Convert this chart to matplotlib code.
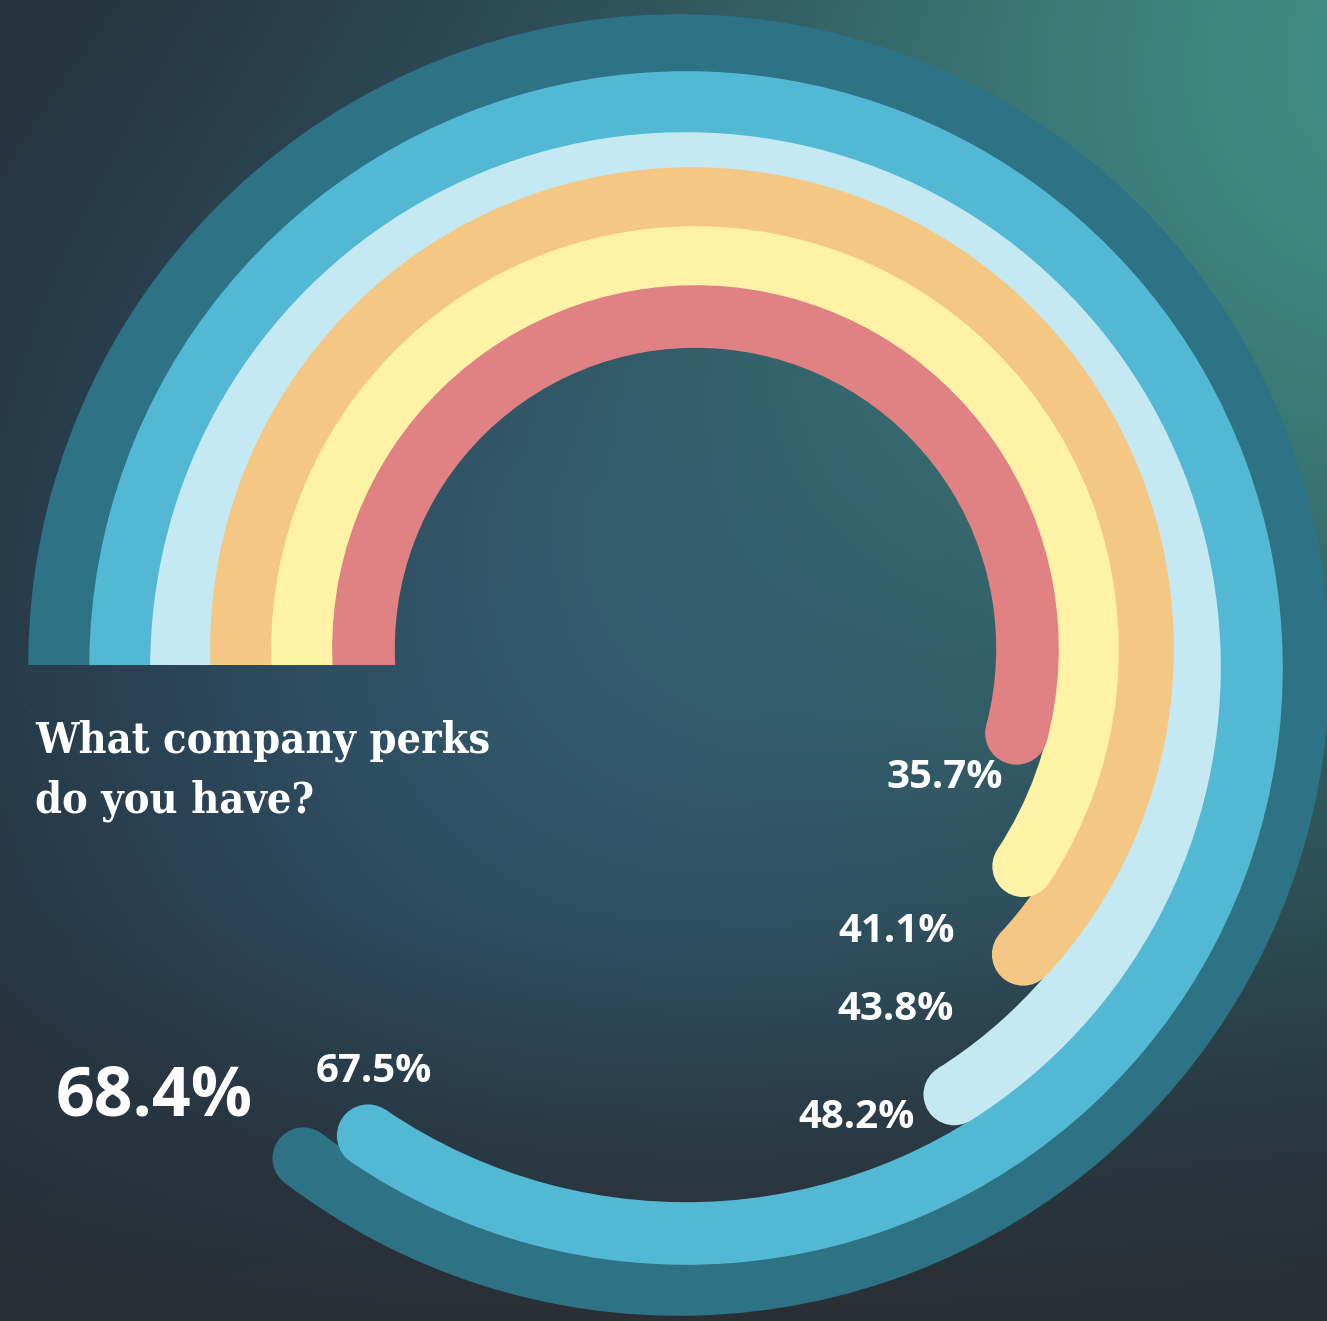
import numpy as np
import matplotlib
matplotlib.use("Agg")
import matplotlib.pyplot as plt
from matplotlib.patches import Wedge, Circle, Polygon

# ...   data: share of respondents per perk, outermost ring first
values = [68.4, 67.5, 48.2, 43.8, 41.1, 35.7]
colors = ["#2E7285", "#53B8D3", "#C5E9F3", "#F4C884", "#FEF2A7", "#E08283"]
title_lines = ["What company perks", "do you have?"]

# ...   layout (pixel space, y pointing down)
W, H = 1327, 1321
centres = [(679, 665), (686, 668), (685.5, 667.5), (692, 649), (695, 650), (695.5, 648.5)]
r_mids = [620, 565.5, 504.5, 450.5, 393, 332]
widths = [60, 61, 60, 61, 60, 61]
pad = 1.6  # slight overlap between neighbouring rings, avoids hairline seams
start_y = 665  # flat starting edge of every bar

label_pos = [(154, 1097), (374, 1072), (857, 1118), (896, 1010), (897, 932), (945, 777)]
label_size = [49, 29, 29, 29, 29, 29]


def sweep(v):
    # angular scale: degrees travelled clockwise from 9 o'clock
    return 72.0 + 3.44 * v


def background():
    yy, xx = np.mgrid[0:H, 0:W].astype(float)

    def blob(cx, cy, s):
        return np.exp(-((xx - cx) ** 2 + (yy - cy) ** 2) / (2 * s ** 2))[..., None]

    img = np.ones((H, W, 3)) * np.array([35, 44, 54]) / 255
    blue = np.array([48, 82, 106]) / 255
    teal = np.array([64, 140, 132]) / 255
    dark = np.array([42, 46, 50]) / 255
    img = img + (blue - img) * blob(600, 660, 430) * 0.95
    img = img + (teal - img) * blob(1420, 60, 540)
    fade = np.clip((yy - 900) / 420, 0, 1)[..., None] ** 1.3
    img = img + (dark - img) * fade * 0.85
    return np.clip(img, 0, 1)


fig = plt.figure(figsize=(W / 100, H / 100), dpi=100)
ax = fig.add_axes([0, 0, 1, 1])
ax.imshow(background(), extent=(0, W, H, 0), zorder=0, interpolation="bilinear")

# cut the bar starts along one horizontal line
cut = Polygon([(0, 0), (W, 0), (W, H), (0, H), (0, start_y + 45),
               (440, start_y + 45), (440, start_y), (0, start_y)],
              closed=True, transform=ax.transData)

for i, v in enumerate(values):
    cx, cy = centres[i]
    r_mid = r_mids[i]
    w = widths[i] + pad
    # y axis is inverted, so increasing data angle runs clockwise on screen
    theta1 = 180 + sweep(v)
    ring = Wedge((cx, cy), r_mid + w / 2, 176, theta1, width=w,
                 facecolor=colors[i], edgecolor="none", zorder=2 + i)
    ax.add_patch(ring)
    ring.set_clip_path(cut)
    t = np.radians(theta1)
    ax.add_patch(Circle((cx + r_mid * np.cos(t), cy + r_mid * np.sin(t)), w / 2,
                        facecolor=colors[i], edgecolor="none", zorder=2 + i))
    lx, ly = label_pos[i]
    ax.text(lx, ly, f"{v:.1f}%", ha="center", va="center", color="white",
            fontsize=label_size[i], fontweight="bold", family="Open Sans", zorder=10)

for k, line in enumerate(title_lines):
    ax.text(35, 752 + 60 * k, line, ha="left", va="baseline", color="white",
            fontsize=31, fontweight="bold", fontstretch="condensed",
            family="DejaVu Serif", zorder=10)

ax.set_xlim(0, W)
ax.set_ylim(H, 0)
ax.set_aspect("auto")
ax.axis("off")

fig.savefig("out.png", dpi=100)
